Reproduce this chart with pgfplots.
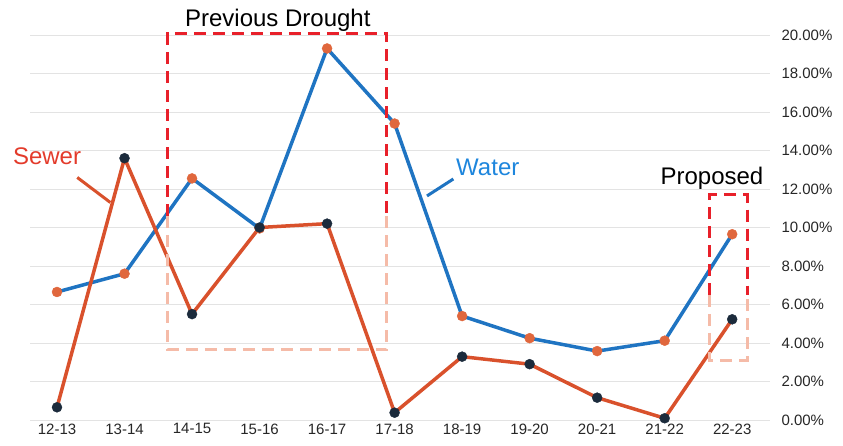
\documentclass[border=0pt]{standalone}
\usepackage{fontspec}
\setmainfont{Liberation Sans}
\usepackage{pgfplots}
\pgfplotsset{compat=1.18}
\definecolor{wblue}{HTML}{1F74C2}
\definecolor{sred}{HTML}{D9512C}
\definecolor{mnavy}{HTML}{1C2B3C}
\definecolor{morange}{HTML}{E0673D}
\definecolor{boxred}{HTML}{E8202A}
\definecolor{boxpink}{HTML}{F5BBA8}
\definecolor{txtred}{HTML}{E33B2B}
\definecolor{txtblue}{HTML}{1E86DD}
\begin{document}
\begin{tikzpicture}
\path[use as bounding box] (-30pt,-26pt) rectangle (813pt,420pt);
\begin{axis}[
  scale only axis, width=740pt, height=385pt,
  xmin=-0.4, xmax=10.56, ymin=0, ymax=20,
  axis line style={draw=none},
  xtick={0,...,10},
  xticklabels={12-13,13-14,14-15,15-16,16-17,17-18,18-19,19-20,20-21,21-22,22-23},
  ytick={0,2,...,20},
  yticklabel pos=right,
  yticklabel={\pgfmathprintnumber[fixed,fixed zerofill,precision=2]{\tick}\%},
  major tick length=0pt,
  ymajorgrids, grid style={line width=0.8pt, color=black!11},
  tick label style={font=\fontsize{15}{17}\selectfont, text=black!85},
  yticklabel style={xshift=8pt},
  /pgf/number format/assume math mode=true,
  clip=false,
]
\addplot[wblue, line width=3.5pt, mark=*, mark size=5pt, mark options={fill=morange, draw=morange, line width=0.4pt}]
coordinates {(0,6.65) (1,7.6) (2,12.55) (3,9.95) (4,19.3) (5,15.4) (6,5.4) (7,4.25) (8,3.58) (9,4.12) (10,9.65)};
\addplot[sred, line width=3.5pt, mark=*, mark size=5pt, mark options={fill=mnavy, draw=mnavy, line width=0.4pt}]
coordinates {(0,0.66) (1,13.6) (2,5.5) (3,10.0) (4,10.2) (5,0.38) (6,3.29) (7,2.9) (8,1.16) (9,0.09) (10,5.23)};

\draw[boxred, line width=3pt, dash pattern=on 12pt off 7pt] (axis cs:1.64,10.6) -- (axis cs:1.64,20.1) -- (axis cs:4.88,20.1) -- (axis cs:4.88,10.6);
\draw[boxpink, line width=3pt, dash pattern=on 12pt off 7pt] (axis cs:1.64,10.6) -- (axis cs:1.64,3.64) -- (axis cs:4.88,3.64) -- (axis cs:4.88,10.6);
\draw[boxred, line width=3pt, dash pattern=on 12pt off 7pt] (axis cs:9.67,6.5) -- (axis cs:9.67,11.7) -- (axis cs:10.22,11.7) -- (axis cs:10.22,6.5);
\draw[boxpink, line width=3pt, dash pattern=on 12pt off 7pt] (axis cs:9.67,6.5) -- (axis cs:9.67,3.1) -- (axis cs:10.22,3.1) -- (axis cs:10.22,6.5);

\node[anchor=base, font=\fontsize{24}{28}\selectfont] at (axis cs:3.27,20.42) {Previous Drought};
\node[anchor=base, font=\fontsize{24}{28}\selectfont, text=txtred] at (axis cs:-0.148,13.25) {Sewer};
\node[anchor=base, font=\fontsize{24}{28}\selectfont, text=txtblue] at (axis cs:6.38,12.68) {Water};
\node[anchor=base, font=\fontsize{24}{28}\selectfont] at (axis cs:9.70,12.21) {Proposed};
\draw[sred, line width=3pt] (axis cs:0.30,12.6) -- (axis cs:0.79,11.3);
\draw[wblue, line width=3pt] (axis cs:5.48,11.64) -- (axis cs:5.87,12.52);
\end{axis}
\end{tikzpicture}
\end{document}
